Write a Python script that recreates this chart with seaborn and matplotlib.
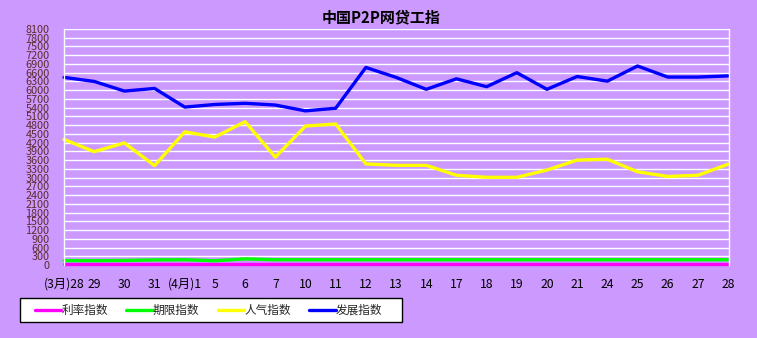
import matplotlib
matplotlib.use("Agg")
import matplotlib.pyplot as plt
import seaborn as sns
import pandas as pd
from matplotlib.lines import Line2D
from matplotlib.patches import Rectangle

# ---- data ----
dates = ["(3月)28", "29", "30", "31", "(4月)1", "5", "6", "7", "10", "11", "12",
         "13", "14", "17", "18", "19", "20", "21", "24", "25", "26", "27", "28"]
rate_index = [20] * 23
term_index = [150, 150, 155, 175, 180, 145, 210, 180, 180, 180, 180, 180,
              180, 180, 180, 180, 180, 180, 180, 180, 180, 180, 180]
popularity_index = [4310, 3890, 4190, 3410, 4570, 4390, 4920, 3700, 4770, 4840, 3470,
                    3420, 3420, 3080, 3010, 3010, 3260, 3600, 3630, 3200, 3040, 3080, 3460]
development_index = [6440, 6300, 5970, 6060, 5420, 5510, 5550, 5490, 5290, 5380, 6780,
                     6440, 6030, 6390, 6120, 6600, 6030, 6470, 6310, 6830, 6450, 6450, 6490]
series_names = ["利率指数", "期限指数", "人气指数", "发展指数"]
series_colors = ["#FF00FF", "#00FF00", "#FFFF00", "#0000FF"]
title = "中国P2P网贷工指"
yticks = list(range(0, 8101, 300))

sns.set_theme(style="white")
plt.rcParams['font.family'] = ['Noto Sans CJK SC', 'DejaVu Sans']

bg = "#CC99FF"
W, H = 757, 338
fig = plt.figure(figsize=(W / 100, H / 100), dpi=100, facecolor=bg)
ax = fig.add_axes([64 / W, 1 - 265 / H, (729 - 64) / W, (265 - 29) / H])
ax.set_facecolor(bg)

pos = list(range(len(dates)))
frames = []
for name, vals in zip(series_names, [rate_index, term_index, popularity_index, development_index]):
    frames.append(pd.DataFrame({"pos": pos, "value": vals, "series": name}))
df = pd.concat(frames, ignore_index=True)

sns.lineplot(data=df, x="pos", y="value", hue="series", hue_order=series_names,
             palette=dict(zip(series_names, series_colors)), linewidth=2.4,
             ax=ax, legend=False, sort=False, clip_on=False)

ax.set_xlim(0, len(dates) - 1 + 0.03)
ax.set_ylim(0, 8100)
ax.set_yticks(yticks)
ax.set_yticklabels([str(t) for t in yticks], fontsize=7.8, color="#5C2A2A")
ax.set_xticks(pos)
ax.set_xticklabels(dates, fontsize=8.8, color="black")
ax.tick_params(axis='y', length=0, pad=10.5)
ax.tick_params(axis='x', length=2, direction='in', color='white', width=1, pad=9)
ax.yaxis.grid(True, color="white", linewidth=1.0)
ax.xaxis.grid(False)
ax.set_xlabel("")
ax.set_ylabel("")
for s in ["top", "bottom"]:
    ax.spines[s].set_visible(False)
for s in ["left", "right"]:
    ax.spines[s].set_color("white")
    ax.spines[s].set_linewidth(1.0)

fig.text(381 / W, 1 - 17 / H, title, ha="center", va="center",
         fontsize=10.8, fontweight="bold", color="black")

# legend box
fig.patches.append(Rectangle((20 / W, 1 - 322 / H), (402 - 20) / W, 24 / H,
                             transform=fig.transFigure, facecolor="white",
                             edgecolor="black", linewidth=1.0, zorder=1))
handles = [Line2D([], [], color=c, linewidth=2.4) for c in series_colors]
leg = fig.legend(handles, series_names, loc="center left",
                 bbox_to_anchor=(35 / W, 1 - 310.5 / H),
                 ncol=4, fontsize=8.4, handlelength=2.25,
                 handletextpad=0.0, borderaxespad=0, borderpad=0,
                 frameon=False, columnspacing=1.6)
leg.set_zorder(2)

fig.savefig("out.png", dpi=100, facecolor=bg)
